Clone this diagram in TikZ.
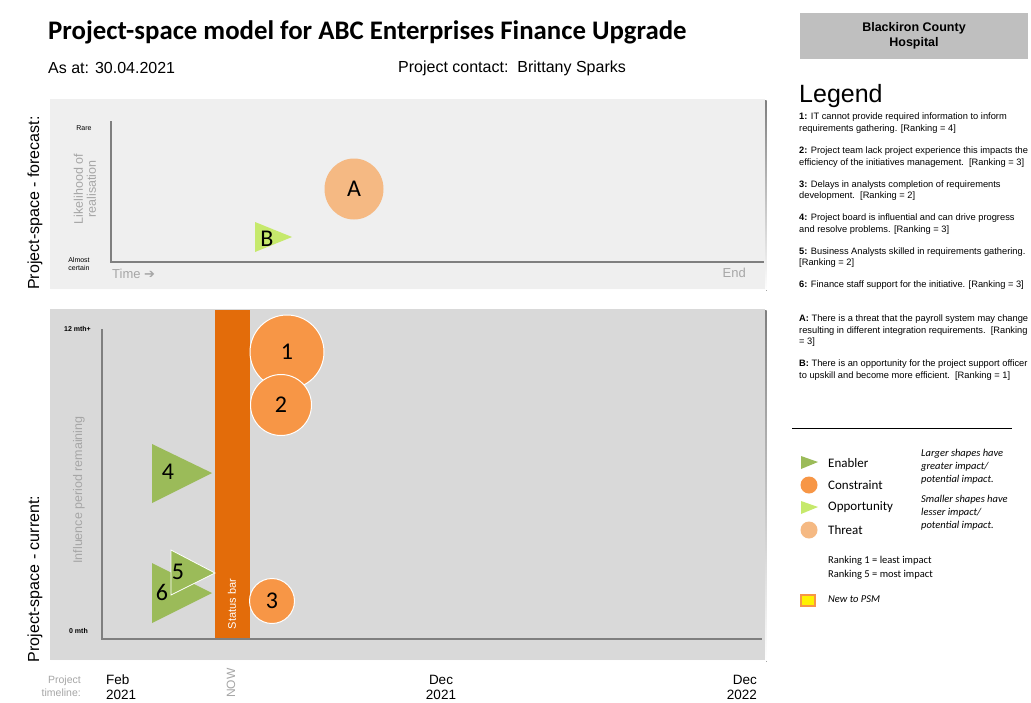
\documentclass[tikz,border=0pt]{standalone}
\usepackage{fontspec}
\setmainfont{Liberation Sans}
\newfontfamily\carlito{Carlito}
\newfontfamily\djv{DejaVu Sans}
\usetikzlibrary{positioning,shapes.geometric}
\definecolor{enabler}{HTML}{9BBB59}
\definecolor{constraint}{HTML}{F79646}
\definecolor{opportunity}{HTML}{C6E96C}
\definecolor{threat}{HTML}{F5B983}
\definecolor{statusbar}{HTML}{E36C0A}
\definecolor{panelA}{HTML}{EFEFEF}
\definecolor{panelB}{HTML}{D9D9D9}
\definecolor{shade}{HTML}{C8C8C8}
\definecolor{axisgray}{HTML}{7F7F7F}
\definecolor{labelgray}{HTML}{A6A6A6}
\definecolor{boxgray}{HTML}{BFBFBF}

\begin{document}
\begin{tikzpicture}[x=1pt,y=-1pt,node distance=13pt,
  axis/.style={draw=axisgray,line width=2.5pt},
  tick/.style={font=\fontsize{7}{8}\selectfont,align=center,inner sep=0},
  side/.style={rotate=90,font=\fontsize{16}{18}\selectfont,inner sep=0},
  faint/.style={rotate=90,text=labelgray,font=\fontsize{12.5}{13}\selectfont,align=center,inner sep=0},
  digit/.style={font=\carlito\fontsize{24}{24}\selectfont,inner sep=0},
  risk/.style={circle,draw=white,line width=1pt,inner sep=0},
  item/.style={anchor=north west,align=left,inner sep=0,font=\fontsize{9.3}{11.5}\selectfont},
  key/.style={anchor=west,inner sep=0,font=\carlito\fontsize{13}{15}\selectfont},
  note/.style={anchor=north west,align=left,inner sep=0,font=\carlito\itshape\fontsize{10.5}{13}\selectfont},
  year/.style={align=center,inner sep=0,font=\fontsize{13.5}{15}\selectfont}]
\useasboundingbox (0,0) rectangle (1031,702);
\fill[white] (0,0) rectangle (1031,702);

% header
\node[anchor=west,inner sep=0,font=\carlito\bfseries\fontsize{26.8}{30}\selectfont] (title) at (48,32) {Project-space model for ABC Enterprises Finance Upgrade};
\node[anchor=west,inner sep=0,font=\fontsize{16}{18}\selectfont] (asat) at (48,68) {As at: 30.04.2021};
\node[anchor=west,inner sep=0,font=\fontsize{16}{18}\selectfont] (contact) at (398,68) {Project contact:\ \ Brittany Sparks};

% forecast panel
\fill[shade] (51.5,100.5) rectangle (766.5,290.5);
\fill[panelA] (50,99) rectangle (765,289);
\node[side] (forecast) at (35,203) {Project-space - forecast:};
\coordinate (fY) at (111,121);
\coordinate (fO) at (111,262);
\coordinate (fX) at (764,262);
\draw[axis] (fY) -- (fO) -- (fX);
\node[tick] (rare) at (84,128) {Rare};
\node[tick] (certain) at (79,264) {Almost\\certain};
\node[faint] (likely) at (85,189) {Likelihood of\\realisation};
\node[anchor=west,inner sep=0,text=labelgray,font=\fontsize{13}{15}\selectfont] (time) at (112,274) {Time {\djv\fontsize{13}{15}\selectfont ➔}};
\node[anchor=east,inner sep=0,text=labelgray,font=\fontsize{13}{15}\selectfont] (end) at (746,273) {End};
\node[ellipse,fill=threat,minimum width=59,minimum height=61,inner sep=0] (riskA) at (354,189) {};
\node[digit] at (riskA) {A};
\fill[opportunity] (255,222) -- (292,237) -- (255,252) -- cycle;
\node[digit] (riskB) at (267,239) {B};

% current panel
\fill[shade] (51.5,310.5) rectangle (766.5,661.5);
\fill[panelB] (50,309) rectangle (765,660);
\node[side] (current) at (35,579) {Project-space - current:};
\node[faint] (influence) at (79,490) {Influence period remaining};
\fill[statusbar] (215,310) rectangle (250,639);
\node[rotate=90,text=white,inner sep=0,font=\fontsize{11}{12}\selectfont] (status) at (232,604) {Status bar};
\coordinate (cY) at (102,329);
\coordinate (cO) at (102,639);
\coordinate (cX) at (762,639);
\draw[axis] (cY) -- (cO) -- (cX);
\node[tick,anchor=east,font=\bfseries\fontsize{7}{8}\selectfont] (top) at (91,329) {12 mth+};
\node[tick,anchor=east,font=\bfseries\fontsize{7}{8}\selectfont] (zero) at (88,631) {0 mth};

\node[risk,fill=constraint,minimum size=74] (c1) at (287,352) {};
\node[digit] at (c1) {1};
\node[risk,fill=constraint,minimum size=61] (c2) at (281,405) {};
\node[digit] at (c2) {2};
\node[risk,fill=constraint,minimum size=45] (c3) at (272,601) {};
\node[digit] at (c3) {3};
\fill[enabler] (152,444) -- (212,473) -- (152,503) -- cycle;
\node[digit] (e4) at (168,472) {4};
\fill[enabler] (152,563) -- (212,593) -- (152,623) -- cycle;
\node[digit] (e6) at (162,592) {6};
\filldraw[fill=enabler,draw=white,line width=0.8pt] (171,550) -- (215,573) -- (171,595) -- cycle;
\node[digit] (e5) at (178,572) {5};

% timeline
\node[anchor=east,align=right,inner sep=0,text=labelgray,font=\fontsize{10.5}{13}\selectfont] (timeline) at (81,686) {Project\\timeline:};
\node[year,anchor=west,align=left] (feb) at (106,687) {Feb\\2021};
\node[rotate=90,inner sep=0,text=labelgray,font=\fontsize{12}{13}\selectfont] (now) at (231,683) {NOW};
\node[year] (dec1) at (441,687) {Dec\\2021};
\node[year,align=right,anchor=east] (dec2) at (757,687) {Dec\\2022};

% legend
\node[fill=boxgray,minimum width=228,minimum height=46,align=center,inner sep=0,font=\bfseries\fontsize{12.5}{15}\selectfont] (hospital) at (914,36) {Blackiron County\\Hospital};
\node[anchor=west,inner sep=0,font=\fontsize{25}{28}\selectfont] (legend) at (799,96) {Legend};
\node[item] (l1) at (799,113) {\textbf{1:} IT cannot provide required information to inform\\requirements gathering. [Ranking = 4]};
\node[item,below=of l1.south west,anchor=north west] (l2) {\textbf{2:} Project team lack project experience this impacts the\\efficiency of the initiatives management.\ \ [Ranking = 3]};
\node[item,below=of l2.south west,anchor=north west] (l3) {\textbf{3:} Delays in analysts completion of requirements\\development.\ \ [Ranking = 2]};
\node[item,below=of l3.south west,anchor=north west] (l4) {\textbf{4:} Project board is influential and can drive progress\\and resolve problems. [Ranking = 3]};
\node[item,below=of l4.south west,anchor=north west] (l5) {\textbf{5:} Business Analysts skilled in requirements gathering.\\{}[Ranking = 2]};
\node[item,below=of l5.south west,anchor=north west] (l6) {\textbf{6:} Finance staff support for the initiative. [Ranking = 3]};
\node[item,below=25pt of l6.south west,anchor=north west] (lA) {\textbf{A:} There is a threat that the payroll system may change\\resulting in different integration requirements.\ \ [Ranking\\= 3]};
\node[item,below=of lA.south west,anchor=north west] (lB) {\textbf{B:} There is an opportunity for the project support officer\\to upskill and become more efficient.\ \ [Ranking = 1]};
\draw[line width=0.8pt] (792,428) -- (1012,428);

\fill[enabler] (801,456) -- (818,462) -- (801,469) -- cycle;
\node[key] (kEnabler) at (828,463) {Enabler};
\node[circle,fill=constraint,minimum size=17,inner sep=0] (kCircleC) at (809,485) {};
\node[key] (kConstraint) at (828,485) {Constraint};
\fill[opportunity] (801,501) -- (818,507) -- (801,514) -- cycle;
\node[key] (kOpportunity) at (828,507) {Opportunity};
\node[circle,fill=threat,minimum size=17,inner sep=0] (kCircleT) at (809,530) {};
\node[key] (kThreat) at (828,530) {Threat};
\node[note] (larger) at (921,449) {Larger shapes have\\greater impact/\\potential impact.};
\node[note] (smaller) at (921,495) {Smaller shapes have\\lesser impact/\\potential impact.};
\node[anchor=north west,align=left,inner sep=0,font=\carlito\fontsize{10.5}{14}\selectfont] (ranking) at (828,556) {Ranking 1 = least impact\\Ranking 5 = most impact};
\node[draw=constraint,fill=yellow,line width=2pt,minimum width=14,minimum height=11,inner sep=0] (kNew) at (808,600) {};
\node[key,font=\carlito\itshape\fontsize{10.5}{13}\selectfont] (newpsm) at (828,599) {New to PSM};
\end{tikzpicture}
\end{document}
